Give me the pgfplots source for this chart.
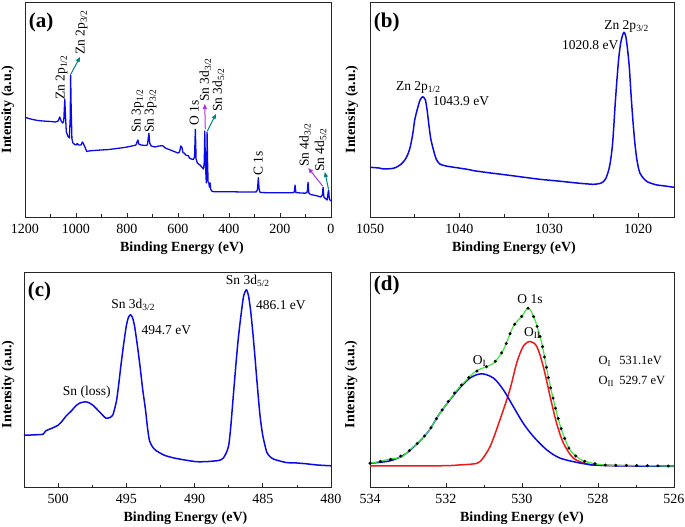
\documentclass[border=0pt]{standalone}
\usepackage{fontspec}
\setmainfont{Liberation Serif}
\usepackage{pgfplots}
\pgfplotsset{compat=1.18}
\usetikzlibrary{arrows.meta}

\definecolor{specblue}{RGB}{10,10,230}
\definecolor{specred}{RGB}{235,25,25}
\definecolor{specgreen}{RGB}{60,230,60}
\definecolor{arrteal}{RGB}{0,130,130}
\definecolor{arrpurple}{RGB}{170,50,220}

\pgfplotsset{
  panel/.style={
    scale only axis, anchor=south west,
    ymin=0, ymax=215, ytick=\empty,
    xtick pos=left, tick align=inside,
    major tick length=4pt, minor tick length=2.5pt,
    minor x tick num=1,
    axis line style={black!85, line width=0.8pt},
    every tick/.style={black!85, line width=0.7pt},
    tick label style={font=\fontsize{14}{15}\selectfont},
    xticklabel style={yshift=-3.3pt},
    /pgf/number format/assume math mode=true,
    /pgf/number format/1000 sep={},
    xlabel={Binding Energy (eV)}, ylabel={Intensity (a.u.)},
    label style={font=\bfseries\fontsize{14}{16}\selectfont, inner sep=0pt},
    xlabel style={at={(axis description cs:0.5,0)}, anchor=center, yshift=-31pt},
    clip=false,
  },
}
\tikzset{
  spec/.style={specblue, line width=1.5pt, line join=round},
  rlab/.style={rotate=90, anchor=west, inner sep=0pt, font=\fontsize{13.5}{15}\selectfont},
  tlab/.style={inner sep=0pt, font=\fontsize{13.5}{15}\selectfont},
  plab/.style={anchor=north west, inner sep=0pt, font=\bfseries\fontsize{21}{22}\selectfont},
  arr/.style={line width=1pt, -{Triangle[length=5pt,width=4pt]}},
}

\begin{document}
\begin{tikzpicture}[x=1pt,y=1pt]

% ---------------- (a) survey ----------------
\begin{axis}[panel, at={(25pt,310pt)}, width=306pt, height=215pt,
  xmin=0, xmax=1200, x dir=reverse, xtick={0,200,...,1200},
  ylabel style={at={(axis description cs:-0.035,0.5)}, anchor=south},
  xlabel style={xshift=4pt}]
\addplot[spec, line width=1.3pt] table {
1200 99.7
1185 98.5
1170 97.5
1150 96.5
1130 96
1100 95.5
1080 95
1070 96
1064 100
1058 96
1052 94
1048 96
1044 118
1041 100
1038 85
1032 81
1026 79
1022.5 100
1021 142
1019 110
1016 78
1012 74
1005 72.5
1000 72
995 73.5
990 72
980 72
975 75
972 74
965 70
958 65.5
950 66
930 66.5
900 67
870 67.5
840 68.5
810 69.5
780 71
765 72
760 75.5
757 77
754 73
745 72
730 71.5
720 72
716 80
714 83.7
711 74
705 71
690 70
675 71
660 71.3
650 69
640 68
620 66
600 64
594 65
589 71
585 70
580 64
575 64
570 62
565 61.5
560 61.5
555 59
548 58
540 57.5
535 60
532 87.7
529 58
524 54
514 52
505 49.5
500 48
497 55
495 86
493 60
491 45
489 34
487 55
486 85
484 55
482 35
479 34
477 30
474 34
472 28
468 26
460 25.3
440 25.3
400 25.3
350 25
300 25
292 25.2
288 28
285 39.3
282 28
278 24.5
250 24.3
200 24.3
150 24.2
144 25
141 32
138 24.5
120 24
100 23.8
93 25
90 34.7
87 24
80 22.5
60 21.5
40 20
34 22
31 29.7
28 20
22 18.5
15 17
11 25
9 27
7 19
4 17
0 16
};
\node[plab] at (rel axis cs:0.012,0.95) {(a)};
\node[rlab] at (axis cs:1056,117) {Zn 2p\textsubscript{1/2}};
\node[rlab] at (axis cs:978,162) {Zn 2p\textsubscript{3/2}};
\node[rlab] at (axis cs:758,84) {Sn 3p\textsubscript{1/2}};
\node[rlab] at (axis cs:707,84) {Sn 3p\textsubscript{3/2}};
\node[rlab] at (axis cs:536,91) {O 1s};
\node[rlab] at (axis cs:493,115) {Sn 3d\textsubscript{3/2}};
\node[rlab] at (axis cs:442,105) {Sn 3d\textsubscript{5/2}};
\node[rlab] at (axis cs:285,41) {C 1s};
\node[rlab] at (axis cs:102,50) {Sn 4d\textsubscript{3/2}};
\node[rlab] at (axis cs:41,45) {Sn 4d\textsubscript{5/2}};
\draw[arr, arrteal] (axis cs:1020,143) -- (axis cs:984,160);
\draw[arr, arrpurple] (axis cs:493,88) -- (axis cs:495,113);
\draw[arr, arrteal] (axis cs:485,86) -- (axis cs:451,103);
\draw[arr, arrpurple] (axis cs:33,31) -- (axis cs:89,49);
\draw[arr, arrteal] (axis cs:10,28) -- (axis cs:24,45);
\end{axis}

% ---------------- (b) Zn 2p ----------------
\begin{axis}[panel, at={(370pt,310pt)}, width=304pt, height=215pt,
  xmin=1016, xmax=1050, x dir=reverse, xtick={1020,1030,1040,1050},
  ylabel style={at={(axis description cs:-0.038,0.5)}, anchor=south},
  xlabel style={xshift=-8pt}]
\addplot[spec, smooth, tension=0.4] table {
1050 49.7
1049 49
1048.5 48
1047.5 48.5
1047 50
1046.5 53
1046.1 57
1045.8 62
1045.5 70
1045.2 84
1045 97
1044.7 108
1044.4 117
1044.1 120.3
1043.8 117
1043.6 106
1043.4 91
1043.2 78
1042.9 67
1042.6 58
1042.2 53
1041.5 51
1040.3 49.3
1039 47.5
1038.4 46.3
1036.5 44
1034.7 42
1033 40
1031 37.7
1029 36
1027.2 34.3
1026 33.3
1025 32.7
1024.3 33.5
1023.9 35.3
1023.6 39
1023.3 47
1023.1 56
1022.9 70.3
1022.75 88
1022.6 110
1022.4 135
1022.2 157
1022 172
1021.8 180.3
1021.6 184.7
1021.4 181
1021.2 168
1021 150
1020.8 122
1020.6 97
1020.4 76
1020.2 60.3
1020 50
1019.8 43.7
1019.4 38.5
1019 35.3
1018.5 33.5
1017.9 32
1017 31
1016 29.7
};
\node[plab] at (rel axis cs:0.012,0.95) {(b)};
\node[tlab, anchor=base] at (axis cs:1044.6,126.3) {Zn 2p\textsubscript{1/2}};
\node[tlab, anchor=base west] at (axis cs:1043,111) {1043.9 eV};
\node[tlab, anchor=base] at (axis cs:1021.3,187.7) {Zn 2p\textsubscript{3/2}};
\node[tlab, anchor=base east] at (axis cs:1022.2,167) {1020.8 eV};
\end{axis}

% ---------------- (c) Sn 3d ----------------
\begin{axis}[panel, at={(24pt,39.5pt)}, width=307pt, height=215pt,
  xmin=480, xmax=502.5, x dir=reverse, xtick={480,485,...,500},
  ylabel style={at={(axis description cs:-0.031,0.48)}, anchor=south},
  xlabel style={xshift=8pt}]
\addplot[spec, smooth, tension=0.4] table {
502.5 52.3
502 52.5
501.5 52.8
501.1 53.3
500.9 56.7
500.5 59
500 62.3
499.7 66.5
499.4 71.7
499 77
498.7 81.7
498.4 84.5
498 85.7
497.7 84.5
497.4 81.7
497.1 77.5
496.8 73.3
496.5 69.3
496.2 70
496 72.3
495.85 79
495.7 88.3
495.55 104
495.4 121.7
495.2 143
495 161.7
494.85 170
494.7 172.7
494.55 170
494.4 161.7
494.2 143
494 121.7
493.8 98
493.6 78.3
493.45 60
493.3 46.7
493.05 40
492.8 36.7
492.4 33.5
492.1 31.7
491.5 29.5
490.8 27.7
490 26
489.6 25.7
489 26
488.4 26.7
488.1 27.5
487.9 29.3
487.7 34
487.5 41.7
487.35 60
487.2 85
487 118
486.8 148.3
486.6 172
486.4 191.7
486.2 197.7
486.05 192
485.9 178
485.75 158
485.6 135
485.4 102
485.2 71.7
485 52
484.7 35
484.4 30
484.2 28.3
483.3 25
482.5 24.5
481.8 23.7
481 22.5
480 21.7
};
\node[plab] at (rel axis cs:0.012,0.955) {(c)};
\node[tlab, anchor=base] at (axis cs:494.5,179) {Sn 3d\textsubscript{3/2}};
\node[tlab, anchor=base west] at (axis cs:493.9,153.3) {494.7 eV};
\node[tlab, anchor=base] at (axis cs:486.1,203.3) {Sn 3d\textsubscript{5/2}};
\node[tlab, anchor=base west] at (axis cs:485.5,178.3) {486.1 eV};
\node[tlab, anchor=base] at (axis cs:497.9,92.3) {Sn (loss)};
\end{axis}

% ---------------- (d) O 1s ----------------
\begin{axis}[panel, at={(370pt,39.5pt)}, width=304pt, height=215pt,
  xmin=526, xmax=534, x dir=reverse, xtick={526,528,...,534},
  ylabel style={at={(axis description cs:-0.041,0.48)}, anchor=south}]
% O_II component (red)
\addplot[specred, line width=1.5pt, smooth, tension=0.5] table {
534 21.7
533 21.7
532 21.8
531.6 22.7
531.3 23.5
531.1 26
530.84 41
530.58 67.7
530.32 97.7
530.14 124.4
529.97 141
529.79 146
529.61 141
529.44 121
529.26 91
529.09 64.4
528.91 44.4
528.65 29.4
528.3 23.7
528 22.3
527 21.7
526 21.5
};
% O_I component (blue)
\addplot[specblue, line width=1.5pt, smooth, tension=0.5] table {
534 24.3
533.47 26.7
533.04 34.3
532.5 54.3
532.16 74.3
531.72 96
531.37 109.4
531.06 113.7
530.75 109.4
530.49 97.7
530.23 81
529.97 64.4
529.7 51
529.35 37.7
529 29.4
528.47 24.4
528.2 22.7
527.5 21.7
526 21.2
};
% envelope (green)
\addplot[specgreen, line width=1.2pt, smooth, tension=0.5] table {
534 24.3
533.75 26
533.47 28.6
533.2 30
533.04 34.5
532.5 54.3
532.16 74.3
531.72 97
531.55 104
531.28 114.4
531.1 118.4
530.75 124.4
530.49 137.7
530.23 161
530.01 171
529.83 179.4
529.66 167.7
529.48 144.4
529.31 111
529.13 81
528.96 57.7
528.74 37.7
528.47 28.4
528.2 24.7
527.8 22.5
527 22
526 21.4
};
% data (black dots)
\addplot[black, line width=3.3pt, line cap=round, dash pattern=on 0pt off 10.5pt, smooth, tension=0.5] table {
534 24.3
533.47 28
533.04 34.5
532.5 54.3
532.16 74.3
531.72 97
531.28 114.4
531.1 118.4
530.75 124.4
530.49 137.7
530.23 161
530.01 171
529.83 179.4
529.66 167.7
529.48 144.4
529.31 111
529.13 81
528.96 57.7
528.74 37.7
528.47 28.4
528.2 24.7
527.8 22.5
527 22
526 21.4
};
\node[plab] at (rel axis cs:0.012,0.985) {(d)};
\node[tlab, anchor=base] at (axis cs:529.79,184) {O 1s};
\node[tlab, anchor=base west] at (axis cs:529.95,151) {O\textsubscript{II}};
\node[tlab, anchor=base west] at (axis cs:531.3,122.7) {O\textsubscript{I}};
\node[tlab, anchor=base west, font=\fontsize{12.5}{14}\selectfont] at (axis cs:527.99,122.7) {\makebox[20.7pt][l]{O\textsubscript{I}}531.1eV};
\node[tlab, anchor=base west, font=\fontsize{12.5}{14}\selectfont] at (axis cs:527.99,102.7) {\makebox[20.7pt][l]{O\textsubscript{II}}529.7 eV};
\end{axis}

\pgfresetboundingbox
\path[use as bounding box] (0,0) rectangle (685,527);
\end{tikzpicture}
\end{document}
